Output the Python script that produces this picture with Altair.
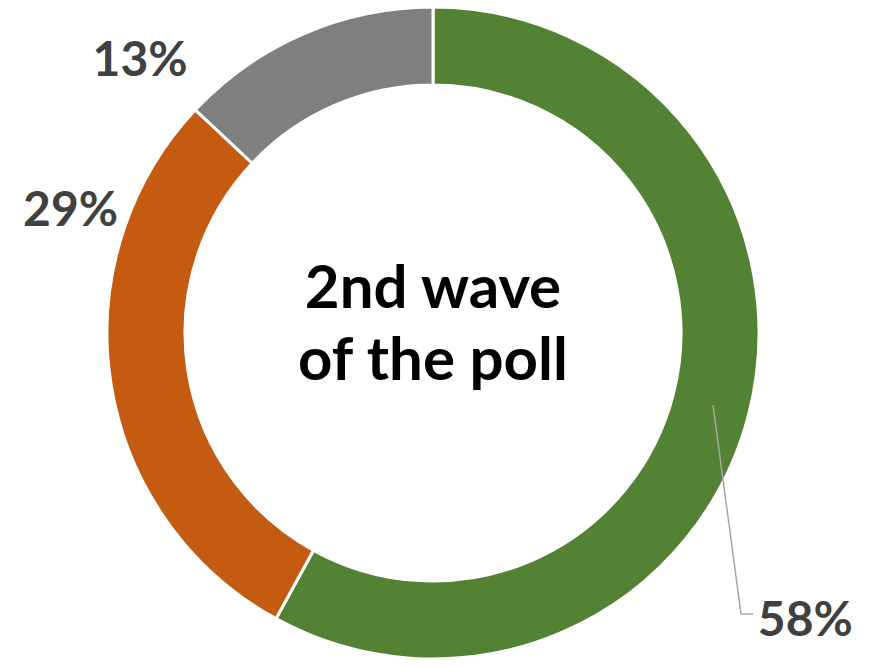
import altair as alt
import pandas as pd

categories = ["A", "B", "C"]
values = [58, 29, 13]
labels = ["58%", "29%", "13%"]
colors = ["#548235", "#C55A11", "#7F7F7F"]
center_lines = ["2nd wave", "of the poll"]

df = pd.DataFrame({"cat": categories, "value": values, "label": labels, "order": [0, 1, 2]})

W, H = 857, 650
CX, CY = 425, 325

arcs = alt.Chart(df).mark_arc(outerRadius=326, innerRadius=248, stroke="white", strokeWidth=3).encode(
    theta=alt.Theta("value:Q", stack=True),
    order=alt.Order("order:Q"),
    color=alt.Color("cat:N", scale=alt.Scale(domain=categories, range=colors), legend=None),
    x=alt.value(CX), y=alt.value(CY),
)

lab_base = alt.Chart(df).transform_window(
    cum="sum(value)", sort=[alt.SortField("order")], frame=[None, 0]
).transform_calculate(mid="datum.cum - datum.value / 2")

offsets = {"58%": (14, 197), "29%": (3, -179), "13%": (-146, 69)}
text_layers = []
for lab, (ddx, ddy) in offsets.items():
    text_layers.append(
        lab_base.transform_filter(alt.datum.label == lab)
        .mark_text(radius=370, font="Lato", fontWeight="bold", fontSize=48,
                   color="#404040", dx=ddx, dy=ddy, align="center", baseline="middle")
        .encode(
            theta=alt.Theta("mid:Q", scale=alt.Scale(domain=[0, 100]), stack=None),
            text="label:N", x=alt.value(CX), y=alt.value(CY),
        )
    )

leader = alt.Chart(pd.DataFrame({"k": [0]})).mark_rule(color="#A6A6A6", strokeWidth=1.5).encode(
    x=alt.value(705), y=alt.value(397), x2=alt.value(733), y2=alt.value(606)
)
leader2 = alt.Chart(pd.DataFrame({"k": [0]})).mark_rule(color="#A6A6A6", strokeWidth=1.5).encode(
    x=alt.value(733), y=alt.value(606), x2=alt.value(745), y2=alt.value(606)
)

center = alt.Chart(pd.DataFrame({"t": [center_lines]})).mark_text(
    font="Lato", fontWeight="bold", fontSize=60, color="black", align="center",
    baseline="alphabetic", lineHeight=72
).encode(text="t", x=alt.value(CX), y=alt.value(300))

chart = alt.layer(arcs, *text_layers, leader, leader2, center).properties(
    width=W, height=H, padding=0, autosize=alt.AutoSizeParams(type="none")
).configure_view(stroke=None)

chart.save("out.html", embed_options={"renderer": "svg", "actions": False})
